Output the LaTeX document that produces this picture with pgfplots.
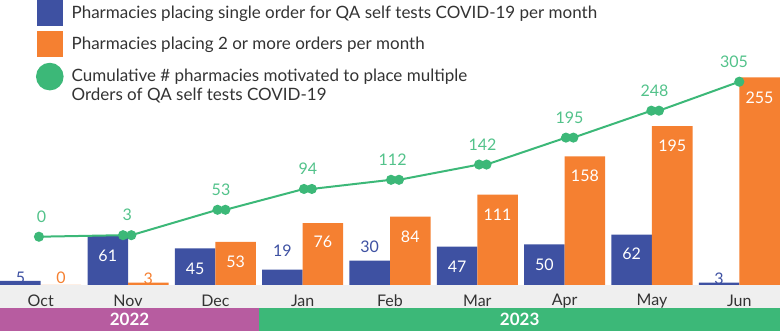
\documentclass[border=0pt]{standalone}
\usepackage{fontspec}
\setmainfont{Lato}
\usepackage{pgfplots}
\usepackage{pgfplotstable}
\pgfplotsset{compat=1.18}

\definecolor{blueC}{HTML}{3E51A2}
\definecolor{orangeC}{HTML}{F58031}
\definecolor{greenC}{HTML}{3CB878}
\definecolor{labgreen}{HTML}{52C28A}
\definecolor{purpleC}{HTML}{B75CA0}
\definecolor{bandgray}{HTML}{EFEFEF}
\definecolor{textC}{HTML}{333333}

% month index, value, label offset (pt), white share of label colour (%)
\pgfplotstableread{
x y dy w
0 5 3 0
1 61 -20 100
2 45 -20 100
3 19 19 0
4 30 14 0
5 47 -20 100
6 50 -20 100
7 62 -19 100
8 3 4 0
}\singleorders

\pgfplotstableread{
x y dy w
0 0 7 0
1 3 4 0
2 53 -20 100
3 76 -19 100
4 84 -20 100
5 111 -20 100
6 158 -19 100
7 195 -20 100
8 255 -20 100
}\multiorders

\begin{document}
\begin{tikzpicture}[font=\fontsize{16}{20}\selectfont, text=textC]
% bars: monthly orders
\begin{axis}[
  set layers,
  scale only axis, width=780pt, height=285pt,
  xmin=-0.466, xmax=8.466, ymin=0, ymax=350,
  clip=false,
  ybar, bar width=0.464,
  axis line style={draw=none}, tick style={draw=none},
  ytick=\empty,
  xtick={0,...,8},
  xticklabels={Oct,Nov,Dec,Jan,Feb,Mar,Apr,May,Jun},
  xticklabel style={anchor=center, yshift=-11.5pt, text=textC},
  /pgf/number format/assume math mode=true,
]
\pgfonlayer{axis background}
  \fill[bandgray] (rel axis cs:0,0) rectangle ([yshift=-23pt]rel axis cs:1,0);
  \fill[purpleC] ([yshift=-23pt]rel axis cs:0,0) rectangle ([yshift=-46pt]axis cs:2.5,0);
  \fill[greenC] ([yshift=-23pt]axis cs:2.5,0) rectangle ([yshift=-46pt]rel axis cs:1,0);
  \node[text=white, font=\fontsize{17}{20}\selectfont\bfseries] at ([yshift=-34pt]axis cs:1.017,0) {2022};
  \node[text=white, font=\fontsize{17}{20}\selectfont\bfseries] at ([yshift=-34pt]axis cs:5.485,0) {2023};
\endpgfonlayer

\addplot[bar shift=-0.232, fill=blueC, draw=none,
  nodes near coords,
  visualization depends on={\thisrow{dy} \as \labdy},
  visualization depends on={\thisrow{w} \as \labw},
  every node near coord/.append style={anchor=center, yshift=\labdy pt, text=white!\labw!blueC}]
  table[x=x, y=y] {\singleorders};
\addplot[bar shift=0.232, fill=orangeC, draw=none,
  nodes near coords,
  visualization depends on={\thisrow{dy} \as \labdy},
  visualization depends on={\thisrow{w} \as \labw},
  every node near coord/.append style={anchor=center, yshift=\labdy pt, text=white!\labw!orangeC}]
  table[x=x, y=y] {\multiorders};
\end{axis}

% cumulative line on its own scale
\begin{axis}[
  scale only axis, width=780pt, height=285pt,
  xmin=-0.466, xmax=8.466, ymin=-95, ymax=465.8,
  hide axis, clip=false,
  /pgf/number format/assume math mode=true,
  legend cell align=left,
  legend style={at={(0,1)}, anchor=north west, xshift=36pt,
    draw=none, fill=none, inner sep=0pt, outer sep=0pt,
    font=\fontsize{17}{19}\selectfont,
    row sep=6pt, column sep=8pt, nodes={inner sep=0pt, text=textC}},
]
\addlegendimage{legend image code/.code={\fill[blueC] (0pt,-12.5pt) rectangle (25pt,12.5pt);}}
\addlegendentry{Pharmacies placing single order for QA self tests COVID-19 per month}
\addlegendimage{legend image code/.code={\fill[orangeC] (0pt,-12.5pt) rectangle (25pt,12.5pt);}}
\addlegendentry{Pharmacies placing 2 or more orders per month}

\addplot[greenC, line width=2pt, mark=*, mark size=4pt,
  mark options={fill=greenC, draw=none},
  legend image code/.code={\fill[greenC] (12.8pt,0pt) circle (12.8pt);}]
  coordinates {
  (-0.02,0)
  (0.943,3) (1.038,3)
  (2.025,53) (2.115,53)
  (3.015,94) (3.105,94)
  (4.012,112) (4.103,112)
  (5.02,142) (5.105,142)
  (6.015,195) (6.10,195)
  (6.993,248) (7.08,248)
  (8.0,305)
  };
\addlegendentry[text depth=3pt]{\begin{tabular}[t]{@{}l@{}}Cumulative \# pharmacies motivated to place multiple\\Orders of QA self tests COVID-19\end{tabular}}

\addplot[forget plot, only marks, mark=*, mark size=0pt,
  mark options={draw=none, fill=none},
  scatter/use mapped color={draw=none, fill=none},
  nodes near coords,
  every node near coord/.append style={anchor=center, yshift=20pt, text=labgreen}]
  coordinates {
  (0.01,0) (0.99,3) (2.065,53) (3.06,94) (4.03,112)
  (5.06,142) (6.055,195) (7.03,248) (7.94,305)
  };
\end{axis}
\pgfresetboundingbox
\path (0pt,-46pt) rectangle (780pt,285pt);
\end{tikzpicture}
\end{document}
